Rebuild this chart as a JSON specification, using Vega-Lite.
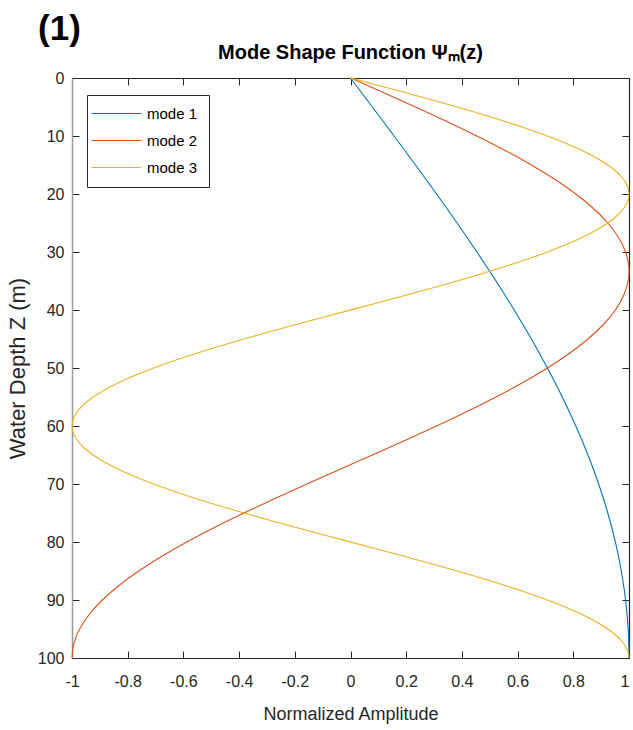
{
  "$schema": "https://vega.github.io/schema/vega-lite/v6.json",
  "autosize": "none",
  "width": 557,
  "height": 580,
  "padding": {"left": 72, "top": 78, "right": 4, "bottom": 72},
  "background": "white",
  "config": {"view": {"stroke": null}, "font": "Liberation Sans"},
  "title": {"text": "Mode Shape Function Ψₘ(z)", "font": "Liberation Sans", "fontSize": 20, "fontWeight": "bold", "color": "#000000", "anchor": "middle", "frame": "group", "offset": 12, "dy": 63},
  "datasets": {
    "modes": [
      {"mode": "mode 1", "z": 0, "a": 0},
      {"mode": "mode 1", "z": 2.5, "a": 0.03926},
      {"mode": "mode 1", "z": 5, "a": 0.07846},
      {"mode": "mode 1", "z": 7.5, "a": 0.11754},
      {"mode": "mode 1", "z": 10, "a": 0.15643},
      {"mode": "mode 1", "z": 12.5, "a": 0.19509},
      {"mode": "mode 1", "z": 15, "a": 0.23345},
      {"mode": "mode 1", "z": 17.5, "a": 0.27144},
      {"mode": "mode 1", "z": 20, "a": 0.30902},
      {"mode": "mode 1", "z": 22.5, "a": 0.34612},
      {"mode": "mode 1", "z": 25, "a": 0.38268},
      {"mode": "mode 1", "z": 27.5, "a": 0.41866},
      {"mode": "mode 1", "z": 30, "a": 0.45399},
      {"mode": "mode 1", "z": 32.5, "a": 0.48862},
      {"mode": "mode 1", "z": 35, "a": 0.52250},
      {"mode": "mode 1", "z": 37.5, "a": 0.55557},
      {"mode": "mode 1", "z": 40, "a": 0.58779},
      {"mode": "mode 1", "z": 42.5, "a": 0.61909},
      {"mode": "mode 1", "z": 45, "a": 0.64945},
      {"mode": "mode 1", "z": 47.5, "a": 0.67880},
      {"mode": "mode 1", "z": 50, "a": 0.70711},
      {"mode": "mode 1", "z": 52.5, "a": 0.73432},
      {"mode": "mode 1", "z": 55, "a": 0.76041},
      {"mode": "mode 1", "z": 57.5, "a": 0.78532},
      {"mode": "mode 1", "z": 60, "a": 0.80902},
      {"mode": "mode 1", "z": 62.5, "a": 0.83147},
      {"mode": "mode 1", "z": 65, "a": 0.85264},
      {"mode": "mode 1", "z": 67.5, "a": 0.87250},
      {"mode": "mode 1", "z": 70, "a": 0.89101},
      {"mode": "mode 1", "z": 72.5, "a": 0.90814},
      {"mode": "mode 1", "z": 75, "a": 0.92388},
      {"mode": "mode 1", "z": 77.5, "a": 0.93819},
      {"mode": "mode 1", "z": 80, "a": 0.95106},
      {"mode": "mode 1", "z": 82.5, "a": 0.96246},
      {"mode": "mode 1", "z": 85, "a": 0.97237},
      {"mode": "mode 1", "z": 87.5, "a": 0.98079},
      {"mode": "mode 1", "z": 90, "a": 0.98769},
      {"mode": "mode 1", "z": 92.5, "a": 0.99307},
      {"mode": "mode 1", "z": 95, "a": 0.99692},
      {"mode": "mode 1", "z": 97.5, "a": 0.99923},
      {"mode": "mode 1", "z": 100, "a": 1},
      {"mode": "mode 2", "z": 0, "a": 0},
      {"mode": "mode 2", "z": 2.5, "a": 0.11754},
      {"mode": "mode 2", "z": 5, "a": 0.23345},
      {"mode": "mode 2", "z": 7.5, "a": 0.34612},
      {"mode": "mode 2", "z": 10, "a": 0.45399},
      {"mode": "mode 2", "z": 12.5, "a": 0.55557},
      {"mode": "mode 2", "z": 15, "a": 0.64945},
      {"mode": "mode 2", "z": 17.5, "a": 0.73432},
      {"mode": "mode 2", "z": 20, "a": 0.80902},
      {"mode": "mode 2", "z": 22.5, "a": 0.87250},
      {"mode": "mode 2", "z": 25, "a": 0.92388},
      {"mode": "mode 2", "z": 27.5, "a": 0.96246},
      {"mode": "mode 2", "z": 30, "a": 0.98769},
      {"mode": "mode 2", "z": 32.5, "a": 0.99923},
      {"mode": "mode 2", "z": 35, "a": 0.99692},
      {"mode": "mode 2", "z": 37.5, "a": 0.98079},
      {"mode": "mode 2", "z": 40, "a": 0.95106},
      {"mode": "mode 2", "z": 42.5, "a": 0.90814},
      {"mode": "mode 2", "z": 45, "a": 0.85264},
      {"mode": "mode 2", "z": 47.5, "a": 0.78532},
      {"mode": "mode 2", "z": 50, "a": 0.70711},
      {"mode": "mode 2", "z": 52.5, "a": 0.61909},
      {"mode": "mode 2", "z": 55, "a": 0.52250},
      {"mode": "mode 2", "z": 57.5, "a": 0.41866},
      {"mode": "mode 2", "z": 60, "a": 0.30902},
      {"mode": "mode 2", "z": 62.5, "a": 0.19509},
      {"mode": "mode 2", "z": 65, "a": 0.07846},
      {"mode": "mode 2", "z": 67.5, "a": -0.03926},
      {"mode": "mode 2", "z": 70, "a": -0.15643},
      {"mode": "mode 2", "z": 72.5, "a": -0.27144},
      {"mode": "mode 2", "z": 75, "a": -0.38268},
      {"mode": "mode 2", "z": 77.5, "a": -0.48862},
      {"mode": "mode 2", "z": 80, "a": -0.58779},
      {"mode": "mode 2", "z": 82.5, "a": -0.67880},
      {"mode": "mode 2", "z": 85, "a": -0.76041},
      {"mode": "mode 2", "z": 87.5, "a": -0.83147},
      {"mode": "mode 2", "z": 90, "a": -0.89101},
      {"mode": "mode 2", "z": 92.5, "a": -0.93819},
      {"mode": "mode 2", "z": 95, "a": -0.97237},
      {"mode": "mode 2", "z": 97.5, "a": -0.99307},
      {"mode": "mode 2", "z": 100, "a": -1},
      {"mode": "mode 3", "z": 0, "a": 0},
      {"mode": "mode 3", "z": 1.25, "a": 0.09802},
      {"mode": "mode 3", "z": 2.5, "a": 0.19509},
      {"mode": "mode 3", "z": 3.75, "a": 0.29028},
      {"mode": "mode 3", "z": 5, "a": 0.38268},
      {"mode": "mode 3", "z": 6.25, "a": 0.47140},
      {"mode": "mode 3", "z": 7.5, "a": 0.55557},
      {"mode": "mode 3", "z": 8.75, "a": 0.63439},
      {"mode": "mode 3", "z": 10, "a": 0.70711},
      {"mode": "mode 3", "z": 11.25, "a": 0.77301},
      {"mode": "mode 3", "z": 12.5, "a": 0.83147},
      {"mode": "mode 3", "z": 13.75, "a": 0.88192},
      {"mode": "mode 3", "z": 15, "a": 0.92388},
      {"mode": "mode 3", "z": 16.25, "a": 0.95694},
      {"mode": "mode 3", "z": 17.5, "a": 0.98079},
      {"mode": "mode 3", "z": 18.75, "a": 0.99518},
      {"mode": "mode 3", "z": 20, "a": 1},
      {"mode": "mode 3", "z": 21.25, "a": 0.99518},
      {"mode": "mode 3", "z": 22.5, "a": 0.98079},
      {"mode": "mode 3", "z": 23.75, "a": 0.95694},
      {"mode": "mode 3", "z": 25, "a": 0.92388},
      {"mode": "mode 3", "z": 26.25, "a": 0.88192},
      {"mode": "mode 3", "z": 27.5, "a": 0.83147},
      {"mode": "mode 3", "z": 28.75, "a": 0.77301},
      {"mode": "mode 3", "z": 30, "a": 0.70711},
      {"mode": "mode 3", "z": 31.25, "a": 0.63439},
      {"mode": "mode 3", "z": 32.5, "a": 0.55557},
      {"mode": "mode 3", "z": 33.75, "a": 0.47140},
      {"mode": "mode 3", "z": 35, "a": 0.38268},
      {"mode": "mode 3", "z": 36.25, "a": 0.29028},
      {"mode": "mode 3", "z": 37.5, "a": 0.19509},
      {"mode": "mode 3", "z": 38.75, "a": 0.09802},
      {"mode": "mode 3", "z": 40, "a": 0},
      {"mode": "mode 3", "z": 41.25, "a": -0.09802},
      {"mode": "mode 3", "z": 42.5, "a": -0.19509},
      {"mode": "mode 3", "z": 43.75, "a": -0.29028},
      {"mode": "mode 3", "z": 45, "a": -0.38268},
      {"mode": "mode 3", "z": 46.25, "a": -0.47140},
      {"mode": "mode 3", "z": 47.5, "a": -0.55557},
      {"mode": "mode 3", "z": 48.75, "a": -0.63439},
      {"mode": "mode 3", "z": 50, "a": -0.70711},
      {"mode": "mode 3", "z": 51.25, "a": -0.77301},
      {"mode": "mode 3", "z": 52.5, "a": -0.83147},
      {"mode": "mode 3", "z": 53.75, "a": -0.88192},
      {"mode": "mode 3", "z": 55, "a": -0.92388},
      {"mode": "mode 3", "z": 56.25, "a": -0.95694},
      {"mode": "mode 3", "z": 57.5, "a": -0.98079},
      {"mode": "mode 3", "z": 58.75, "a": -0.99518},
      {"mode": "mode 3", "z": 60, "a": -1},
      {"mode": "mode 3", "z": 61.25, "a": -0.99518},
      {"mode": "mode 3", "z": 62.5, "a": -0.98079},
      {"mode": "mode 3", "z": 63.75, "a": -0.95694},
      {"mode": "mode 3", "z": 65, "a": -0.92388},
      {"mode": "mode 3", "z": 66.25, "a": -0.88192},
      {"mode": "mode 3", "z": 67.5, "a": -0.83147},
      {"mode": "mode 3", "z": 68.75, "a": -0.77301},
      {"mode": "mode 3", "z": 70, "a": -0.70711},
      {"mode": "mode 3", "z": 71.25, "a": -0.63439},
      {"mode": "mode 3", "z": 72.5, "a": -0.55557},
      {"mode": "mode 3", "z": 73.75, "a": -0.47140},
      {"mode": "mode 3", "z": 75, "a": -0.38268},
      {"mode": "mode 3", "z": 76.25, "a": -0.29028},
      {"mode": "mode 3", "z": 77.5, "a": -0.19509},
      {"mode": "mode 3", "z": 78.75, "a": -0.09802},
      {"mode": "mode 3", "z": 80, "a": 0},
      {"mode": "mode 3", "z": 81.25, "a": 0.09802},
      {"mode": "mode 3", "z": 82.5, "a": 0.19509},
      {"mode": "mode 3", "z": 83.75, "a": 0.29028},
      {"mode": "mode 3", "z": 85, "a": 0.38268},
      {"mode": "mode 3", "z": 86.25, "a": 0.47140},
      {"mode": "mode 3", "z": 87.5, "a": 0.55557},
      {"mode": "mode 3", "z": 88.75, "a": 0.63439},
      {"mode": "mode 3", "z": 90, "a": 0.70711},
      {"mode": "mode 3", "z": 91.25, "a": 0.77301},
      {"mode": "mode 3", "z": 92.5, "a": 0.83147},
      {"mode": "mode 3", "z": 93.75, "a": 0.88192},
      {"mode": "mode 3", "z": 95, "a": 0.92388},
      {"mode": "mode 3", "z": 96.25, "a": 0.95694},
      {"mode": "mode 3", "z": 97.5, "a": 0.98079},
      {"mode": "mode 3", "z": 98.75, "a": 0.99518},
      {"mode": "mode 3", "z": 100, "a": 1}
    ],
    "panel": [{"label": "(1)"}]
  },
  "layer": [
    {
      "data": {"name": "modes"},
      "mark": {"type": "line", "strokeWidth": 1.1, "interpolate": "natural"},
      "encoding": {
        "x": {
          "field": "a", "type": "quantitative",
          "scale": {"domain": [-1, 1], "nice": false, "zero": false},
          "axis": {
            "orient": "bottom", "values": [-1, -0.8, -0.6, -0.4, -0.2, 0, 0.2, 0.4, 0.6, 0.8, 1],
            "labelExpr": "replace(format(datum.value, '~g'), '\u2212', '-')",
            "labelAlign": {"condition": {"test": "datum.value == 1", "value": "right"}, "value": "center"},
            "grid": false, "labelFlush": false,
            "domainColor": "#262626", "domainWidth": 1.2,
            "tickColor": "#262626", "tickSize": -7, "tickWidth": 1,
            "labelFont": "Liberation Sans", "labelFontSize": 16, "labelColor": "#262626", "labelPadding": 22,
            "title": "Normalized Amplitude", "titleFont": "Liberation Sans", "titleFontSize": 18,
            "titleFontWeight": "normal", "titleColor": "#262626", "titlePadding": 16
          }
        },
        "y": {
          "field": "z", "type": "quantitative",
          "scale": {"domain": [0, 100], "reverse": true, "nice": false, "zero": false},
          "axis": {
            "orient": "left", "values": [0, 10, 20, 30, 40, 50, 60, 70, 80, 90, 100], "format": "d",
            "grid": false, "labelFlush": false,
            "domainColor": "#9a9a9a", "domainWidth": 1.5,
            "tickColor": "#262626", "tickSize": -7, "tickWidth": 1,
            "labelFont": "Liberation Sans", "labelFontSize": 16, "labelColor": "#262626", "labelPadding": 15,
            "title": "Water Depth Z (m)", "titleFont": "Liberation Sans", "titleFontSize": 22,
            "titleFontWeight": "normal", "titleColor": "#262626", "titlePadding": 8
          }
        },
        "color": {
          "field": "mode", "type": "nominal",
          "scale": {"domain": ["mode 1", "mode 2", "mode 3"], "range": ["#0072BD", "#D95319", "#EDB120"]},
          "legend": {
            "orient": "none", "legendX": 15, "legendY": 17, "title": null,
            "symbolType": "M-5,0H5", "symbolSize": 100, "symbolStrokeWidth": 1.2, "symbolOffset": 11,
            "labelOffset": 23, "labelFont": "Liberation Sans", "labelFontSize": 15, "labelColor": "#000000",
            "strokeColor": "#262626", "fillColor": "white", "padding": 11, "rowPadding": 11
          }
        },
        "order": {"field": "z", "type": "quantitative"}
      }
    },
    {
      "data": {"name": "panel"},
      "mark": {"type": "text", "font": "Liberation Sans", "fontSize": 35, "fontWeight": "bold", "align": "left", "baseline": "alphabetic", "color": "#000000", "clip": false},
      "encoding": {
        "text": {"field": "label", "type": "nominal"},
        "x": {
          "datum": -1.122, "type": "quantitative",
          "scale": {"domain": [-1, 1], "nice": false, "zero": false},
          "axis": {
            "orient": "top", "values": [-1, -0.8, -0.6, -0.4, -0.2, 0, 0.2, 0.4, 0.6, 0.8, 1],
            "labels": false, "title": null, "grid": false,
            "domainColor": "#262626", "domainWidth": 1.2, "tickColor": "#262626", "tickSize": -7, "tickWidth": 1
          }
        },
        "y": {
          "datum": -6.5, "type": "quantitative",
          "scale": {"domain": [0, 100], "reverse": true, "nice": false, "zero": false},
          "axis": {
            "orient": "right", "values": [0, 10, 20, 30, 40, 50, 60, 70, 80, 90, 100],
            "labels": false, "title": null, "grid": false,
            "domainColor": "#262626", "domainWidth": 1.2, "tickColor": "#262626", "tickSize": -7, "tickWidth": 1
          }
        }
      }
    }
  ],
  "resolve": {"axis": {"x": "independent", "y": "independent"}}
}
